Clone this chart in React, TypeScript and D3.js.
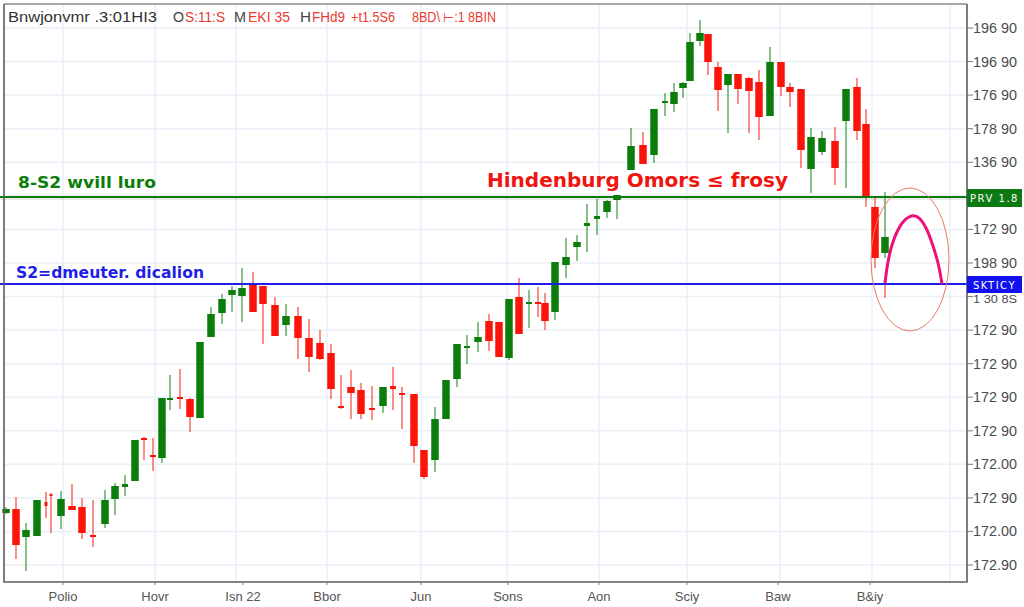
import React, { useEffect, useRef } from 'react'
import * as d3 from 'd3'

const sessions = [6, 16, 26, 37, 46, 51, 61, 72, 82, 93, 105, 115, 125, 135, 144, 153, 162, 170, 180, 190, 200, 211, 222, 232, 242, 253, 263, 275, 286, 298, 309, 320, 331, 341, 351, 361, 372, 383, 393, 402, 414, 424, 435, 446, 457, 467, 478, 489, 499, 509, 519, 529, 538, 545, 555, 566, 577, 587, 597, 607, 617, 631, 643, 654, 665, 674, 683, 690, 700, 708, 718, 728, 738, 749, 759, 770, 781, 790, 801, 811, 822, 835, 846, 857, 866, 875, 885, 885]
const opens = [52, 56, 28, 29, 63, 71, 49, 59, 58, 30, 41, 66, 78, 84, 127, 110, 107, 166, 168, 166, 147, 228, 252, 270, 269, 280, 279, 260, 240, 249, 227, 222, 212, 159, 178, 175, 157, 159, 179, 172, 171, 115, 105, 146, 186, 217, 223, 244, 243, 207, 268, 262, 263, 262, 253, 300, 318, 339, 346, 353, 365, 395, 420, 410, 462, 461, 477, 484, 524, 531, 498, 480, 491, 487, 483, 449, 503, 478, 476, 396, 413, 424, 444, 478, 441, 358, 312, 282]
const highs = [58, 68, 42, 65, 73, 72, 74, 81, 67, 65, 75, 82, 90, 125, 128, 127, 167, 190, 196, 167, 223, 258, 271, 279, 297, 293, 279, 268, 261, 258, 246, 235, 221, 190, 195, 182, 179, 178, 198, 178, 171, 115, 158, 185, 221, 230, 243, 251, 243, 266, 287, 275, 278, 272, 303, 327, 330, 361, 366, 365, 370, 437, 433, 456, 472, 482, 483, 532, 545, 531, 503, 491, 491, 488, 495, 518, 503, 482, 476, 437, 434, 438, 476, 487, 456, 369, 373, 282]
const lows = [51, 6, -6, 29, 47, 32, 36, 55, 26, 18, 37, 50, 69, 84, 105, 94, 102, 155, 156, 133, 147, 228, 241, 253, 243, 253, 221, 229, 229, 206, 193, 205, 166, 156, 146, 146, 145, 152, 155, 136, 102, 86, 93, 146, 178, 201, 213, 214, 208, 205, 231, 237, 248, 235, 245, 287, 304, 313, 330, 347, 346, 395, 401, 402, 449, 453, 467, 484, 519, 490, 454, 432, 461, 432, 425, 449, 469, 458, 397, 372, 410, 380, 377, 425, 358, 297, 307, 267]
const closes = [56, 20, 35, 65, 59, 69, 66, 55, 32, 28, 65, 79, 81, 125, 125, 108, 167, 167, 166, 148, 223, 251, 266, 275, 277, 253, 261, 229, 249, 227, 208, 206, 176, 157, 172, 151, 155, 178, 176, 170, 119, 88, 146, 185, 221, 219, 228, 224, 208, 266, 231, 263, 262, 244, 303, 308, 323, 342, 349, 364, 370, 419, 401, 456, 464, 473, 482, 523, 532, 503, 475, 491, 476, 474, 448, 503, 478, 473, 415, 428, 427, 397, 476, 434, 369, 307, 328, 281]
const narrowSessions = [46, 51]

const priceTicks = [537, 503.4, 469.9, 436.3, 402.7, 369.1, 335.6, 302, 268.4, 234.9, 201.3, 167.8, 134.2, 100.7, 67.1, 33.6, 0]
const priceLabels = ['196 90', '196 90', '176 90', '178 90', '136 90', '', '172 90', '198 90', '1 30 8S', '172 90', '172 90', '172 90', '172 90', '172.00', '172 90', '172.00', '172.90']

const gridSessions = [63, 155, 236, 327, 421, 507, 599, 687, 780, 872, 950]
const monthSessions = [63, 155, 243, 327, 421, 508, 599, 687, 778, 870]
const monthLabels = ['Polio', 'Hovr', 'Isn 22', 'Bbor', 'Jun', 'Sons', 'Aon', 'Sciy', 'Baw', 'B&iy']

const resistanceLevel = 368
const supportLevel = 281

const curveSessions = [885, 888, 892, 897, 903, 909, 915, 920, 926, 932, 938, 942]
const curvePrices = [282, 303, 320, 333, 343, 348, 349, 346, 337, 322, 302, 281]

const GREEN = '#0a7d0a'
const RED = '#fb1409'
const BLUE = '#1f1fe6'

export default function App() {
  const svgRef = useRef<SVGSVGElement>(null)

  useEffect(() => {
    if (!svgRef.current) return

    const svg = d3.select(svgRef.current)
    svg.selectAll('*').remove()

    const x = d3.scaleLinear().domain([0, 1024]).range([0, 1024])
    const y = d3.scaleLinear().domain([0, 537]).range([565, 28])

    const left = 4
    const right = 967
    const top = 4
    const bottom = 582

    // grid
    const grid = svg.append('g').attr('stroke', '#e9f0f8').attr('stroke-width', 1.5)
    gridSessions.forEach((s) => {
      grid.append('line').attr('x1', x(s)).attr('x2', x(s)).attr('y1', top).attr('y2', bottom)
    })
    priceTicks.forEach((p) => {
      grid.append('line').attr('x1', left).attr('x2', right).attr('y1', y(p)).attr('y2', y(p))
    })

    // candles
    const candles = svg.append('g')
    sessions.forEach((s, i) => {
      const color = closes[i] >= opens[i] ? GREEN : RED
      candles.append('line')
        .attr('x1', x(s)).attr('x2', x(s))
        .attr('y1', y(highs[i])).attr('y2', y(lows[i]))
        .attr('stroke', color).attr('stroke-width', 1.2).attr('opacity', 0.8)
      const bodyTop = y(Math.max(opens[i], closes[i]))
      const bodyBottom = y(Math.min(opens[i], closes[i]))
      const h = bodyBottom - bodyTop
      const w = narrowSessions.includes(s) ? 3 : h < 4 ? 6 : 7.5
      candles.append('rect')
        .attr('x', x(s) - w / 2).attr('y', bodyTop)
        .attr('width', w).attr('height', Math.max(h, 2))
        .attr('fill', color)
    })

    // level lines
    svg.append('line')
      .attr('x1', 0).attr('x2', right)
      .attr('y1', y(resistanceLevel) + 2).attr('y2', y(resistanceLevel) + 2)
      .attr('stroke', '#000').attr('stroke-width', 2).attr('opacity', 0.08)
    svg.append('line')
      .attr('x1', 0).attr('x2', right)
      .attr('y1', y(resistanceLevel)).attr('y2', y(resistanceLevel))
      .attr('stroke', GREEN).attr('stroke-width', 1.8)
    svg.append('line')
      .attr('x1', 0).attr('x2', right)
      .attr('y1', y(supportLevel)).attr('y2', y(supportLevel))
      .attr('stroke', BLUE).attr('stroke-width', 1.8)

    // Hindenburg marking
    svg.append('ellipse')
      .attr('cx', x(910)).attr('cy', y(305.5))
      .attr('rx', x(39) - x(0)).attr('ry', y(0) - y(71.5))
      .attr('fill', 'none').attr('stroke', '#ec7a66').attr('stroke-width', 1)
    const arc = d3.line<number>()
      .x((s) => x(s))
      .y((_, i) => y(curvePrices[i]))
      .curve(d3.curveCatmullRom)
    svg.append('path')
      .attr('d', arc(curveSessions))
      .attr('fill', 'none').attr('stroke', '#ee0f78').attr('stroke-width', 3)

    // frame
    const frame = svg.append('g').attr('fill', 'none')
    frame.append('path')
      .attr('d', `M${left},${top}H${right}`)
      .attr('stroke', '#8a8a8a').attr('stroke-width', 1.5)
    frame.append('path')
      .attr('d', `M${left},${top}V${bottom}H${right}V${top}`)
      .attr('stroke', '#5c5c5c').attr('stroke-width', 1.6)

    // price axis
    const axis = svg.append('g')
      .attr('font-family', 'Liberation Sans')
      .attr('font-size', 14)
      .attr('fill', '#4c4c4c')
    priceTicks.forEach((p, i) => {
      if (!priceLabels[i]) return
      const squeezed = priceLabels[i] === '1 30 8S'
      axis.append('line')
        .attr('x1', right).attr('x2', 973)
        .attr('y1', y(p)).attr('y2', y(p))
        .attr('stroke', '#777')
      axis.append('text')
        .attr('x', 973).attr('y', squeezed ? y(p) + 6 : y(p) + 5)
        .attr('font-size', squeezed ? 10 : 14)
        .attr('textLength', 44).attr('lengthAdjust', 'spacingAndGlyphs')
        .text(priceLabels[i])
    })

    // price tags
    const tags = [
      { color: '#0b7a12', label: 'PRV 1.8', top: 189, h: 18 },
      { color: '#1212f0', label: 'SKTICY', top: 276, h: 17 },
    ]
    tags.forEach((t) => {
      svg.append('rect')
        .attr('x', right).attr('y', t.top)
        .attr('width', 55).attr('height', t.h)
        .attr('fill', t.color)
      svg.append('text')
        .attr('x', right + 27.5).attr('y', t.top + 13)
        .attr('text-anchor', 'middle')
        .attr('font-family', 'DejaVu Sans')
        .attr('font-size', 10)
        .attr('letter-spacing', 1.5)
        .attr('fill', '#fff')
        .text(t.label)
    })

    // month axis
    monthSessions.forEach((s, i) => {
      svg.append('line')
        .attr('x1', x(s)).attr('x2', x(s))
        .attr('y1', bottom).attr('y2', bottom + 3)
        .attr('stroke', '#777')
      svg.append('text')
        .attr('x', x(s)).attr('y', 601)
        .attr('text-anchor', 'middle')
        .attr('font-family', 'Liberation Sans')
        .attr('font-size', 13)
        .attr('fill', '#555')
        .text(monthLabels[i])
    })

    // header
    const header = [
      { x: 8, w: 149, t: 'Bnwjonvmr .3:01HI3', c: '#333' },
      { x: 173, w: 11, t: 'O', c: '#444' },
      { x: 185, w: 40, t: 'S:11:S', c: '#ea3b32' },
      { x: 234, w: 12, t: 'M', c: '#444' },
      { x: 248, w: 42, t: 'EKI 35', c: '#ea3b32' },
      { x: 300, w: 11, t: 'H', c: '#444' },
      { x: 312, w: 33, t: 'FHd9', c: '#ea3b32' },
      { x: 351, w: 44, t: '+t1.5S6', c: '#ea3b32' },
      { x: 412, w: 84, t: '8BD\\ ⊢:1 8BIN', c: '#ea3b32' },
    ]
    header.forEach((h) => {
      svg.append('text')
        .attr('x', h.x).attr('y', 22)
        .attr('font-family', 'Liberation Sans')
        .attr('font-size', 14)
        .attr('fill', h.c)
        .attr('textLength', h.w).attr('lengthAdjust', 'spacingAndGlyphs')
        .text(h.t)
    })

    // annotations
    const notes = [
      { x: 18, base: 188, w: 138, size: 16, t: '8-S2 wvill luro', c: GREEN },
      { x: 16, base: 278, w: 188, size: 16, t: 'S2=dmeuter. dicalion', c: BLUE },
      { x: 487, base: 187, w: 301, size: 19, t: 'Hindenburg Omors ≤ frosy', c: '#f0140f' },
    ]
    notes.forEach((n) => {
      svg.append('text')
        .attr('x', n.x).attr('y', n.base)
        .attr('font-family', 'DejaVu Sans')
        .attr('font-weight', 'bold')
        .attr('font-size', n.size)
        .attr('fill', n.c)
        .attr('textLength', n.w).attr('lengthAdjust', 'spacingAndGlyphs')
        .text(n.t)
    })
  }, [])

  return (
    <svg
      ref={svgRef}
      width={1024}
      height={607}
      style={{ position: 'absolute', left: 0, top: 0, background: '#fff' }}
    />
  )
}
